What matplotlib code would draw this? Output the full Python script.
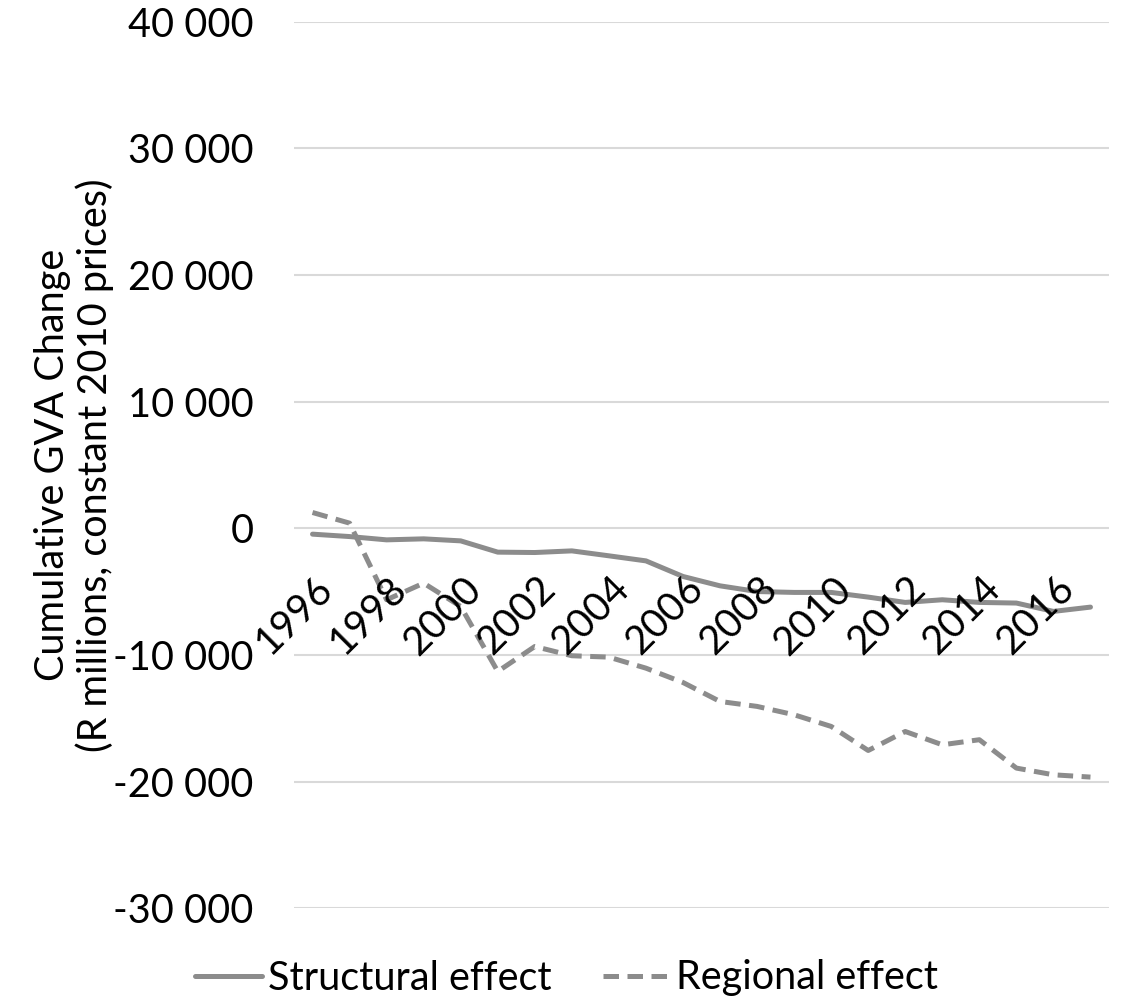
import matplotlib
matplotlib.use("Agg")
import matplotlib.pyplot as plt
import matplotlib.transforms as mtransforms
from matplotlib.ticker import FuncFormatter

plt.rcParams['font.family'] = ['Lato', 'DejaVu Sans']

years = list(range(1996, 2018))
structural = [-460, -650, -910, -830, -990, -1880, -1910, -1780, -2170, -2570, -3800,
              -4540, -4990, -5060, -5060, -5430, -5850, -5640, -5850, -5900, -6560, -6220]
regional = [1250, 410, -5640, -4330, -6170, -11300, -9330, -10060, -10170, -11040, -12170,
            -13670, -14060, -14720, -15640, -17540, -16040, -17090, -16690, -18930, -19460, -19640]
label_years = years[::2]
yticks = [-30000, -20000, -10000, 0, 10000, 20000, 30000, 40000]

line_col = '#8c8c8c'
fs = 28.5

fig = plt.figure(figsize=(11.33, 10.05), dpi=100)
ax = fig.add_axes([294 / 1133, 1 - 908.3 / 1005, (1109 - 294) / 1133, (908.3 - 21.7) / 1005])

ax.plot(years, structural, color=line_col, lw=3.6, solid_capstyle='round',
        label='Structural effect', zorder=3)
ax.plot(years, regional, color=line_col, lw=3.6, dashes=(3.1, 1.7),
        label='Regional effect', zorder=3)

ax.set_xlim(1995.5, 2017.5)
ax.set_ylim(-30000, 40000)
ax.set_yticks(yticks)
ax.yaxis.set_major_formatter(FuncFormatter(lambda v, p: f'{int(v):,}'.replace(',', ' ')))
ax.tick_params(axis='y', length=0, pad=29, labelsize=fs)
ax.set_xticks([])
ax.grid(axis='y', color='#d9d9d9', lw=1.5, zorder=0)
for s in ax.spines.values():
    s.set_visible(False)

# year labels sit along the zero line, rotated
off = mtransforms.ScaledTranslation(1 / 72, -30 / 72, fig.dpi_scale_trans)
for yr in label_years:
    ax.text(yr, 0, str(yr), rotation=45, ha='right', va='top', rotation_mode='anchor',
            fontsize=fs, transform=ax.transData + off, zorder=4)

fig.text(74 / 1133, 1 - 465 / 1005, 'Cumulative GVA Change\n(R millions, constant 2010 prices)',
         rotation=90, ha='center', va='center', multialignment='center', fontsize=fs,
         linespacing=1.15)

fig.legend(loc='center', bbox_to_anchor=(0.5, 1 - 978 / 1005), ncol=2, frameon=False,
           fontsize=fs, handlelength=1.7, handletextpad=0.15, columnspacing=1.3)

fig.savefig('out.png', dpi=100)
